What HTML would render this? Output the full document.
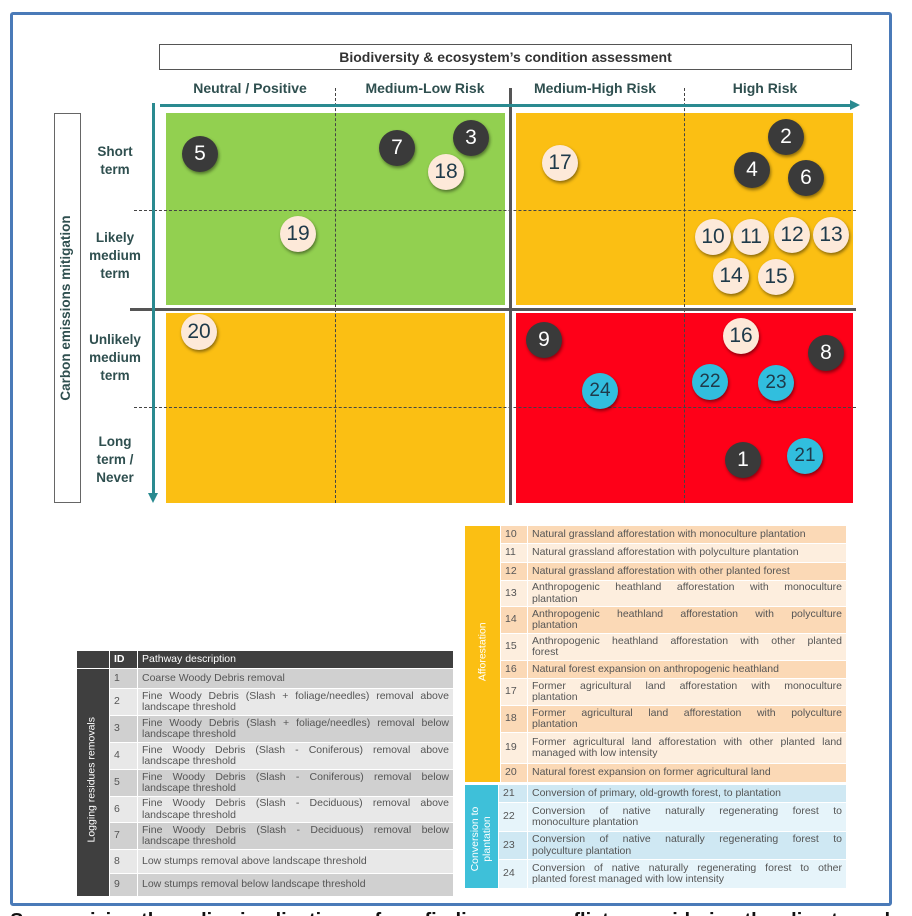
<!DOCTYPE html>
<html><head><meta charset="utf-8"><style>
*{margin:0;padding:0;box-sizing:border-box}
html,body{width:912px;height:916px;overflow:hidden}
body{background:#fff;position:relative;font-family:"Liberation Sans",Arial,sans-serif}
.a{position:absolute}
.q{position:absolute}
.hd{position:absolute;font-weight:bold;font-size:14px;color:#2f4f4f;text-align:center}
.rl{position:absolute;font-weight:bold;font-size:13.5px;color:#2f4f4f;text-align:center;line-height:18px;width:80px}
.c{position:absolute;width:36px;height:36px;border-radius:50%;text-align:center;line-height:36px;font-size:21px;box-shadow:1px 2px 3px rgba(0,0,0,.45)}
.k{background:#3a3a3a;color:#fff}
.p{background:#fde9d9;color:#1f3a4a}
.b{background:#31bede;color:#1f3a4a;font-size:19px}
.vd{position:absolute;border-left:1px dashed #444;width:0}
.hdsh{position:absolute;border-top:1px dashed #444;height:0}
table{border-collapse:separate;border-spacing:1px;font-size:10.5px;color:#555;line-height:11.5px}
td{padding:0 4px;vertical-align:middle}
.f{display:block;text-align:justify;text-align-last:justify}
</style></head><body>
<div class="a" style="left:10px;top:12px;width:882px;height:894px;border:3px solid #4a7ab8;border-radius:3px"></div>

<div class="a" style="left:159px;top:44px;width:693px;height:26px;border:1px solid #555;text-align:center;font-weight:bold;font-size:14px;line-height:24px;color:#333">Biodiversity &amp; ecosystem’s condition assessment</div>

<div class="hd" style="left:170px;top:80px;width:160px">Neutral / Positive</div>
<div class="hd" style="left:345px;top:80px;width:160px">Medium-Low Risk</div>
<div class="hd" style="left:515px;top:80px;width:160px">Medium-High Risk</div>
<div class="hd" style="left:685px;top:80px;width:160px">High Risk</div>

<div class="q" style="left:166px;top:113px;width:339px;height:192px;background:#92d050"></div>
<div class="q" style="left:516px;top:113px;width:337px;height:192px;background:#fbbf13"></div>
<div class="q" style="left:166px;top:313px;width:339px;height:190px;background:#fbbf13"></div>
<div class="q" style="left:516px;top:313px;width:337px;height:190px;background:#fe0018"></div>

<div class="vd" style="left:335px;top:88px;height:415px"></div>
<div class="vd" style="left:684px;top:88px;height:415px"></div>
<div class="hdsh" style="left:134px;top:210px;width:722px"></div>
<div class="hdsh" style="left:134px;top:407px;width:722px"></div>

<div class="a" style="left:509px;top:88px;width:3px;height:417px;background:#555"></div>
<div class="a" style="left:130px;top:308px;width:726px;height:3px;background:#555"></div>

<div class="a" style="left:160px;top:104px;width:692px;height:3px;background:#2a8a90"></div>
<div class="a" style="left:850px;top:100px;width:0;height:0;border-left:10px solid #2a8a90;border-top:5.5px solid transparent;border-bottom:5.5px solid transparent"></div>
<div class="a" style="left:152px;top:103px;width:3px;height:392px;background:#2a8a90"></div>
<div class="a" style="left:148px;top:493px;width:0;height:0;border-top:10px solid #2a8a90;border-left:5.5px solid transparent;border-right:5.5px solid transparent"></div>

<div class="a" style="left:54px;top:113px;width:27px;height:390px;border:1px solid #666"></div>
<div class="a" style="left:-128px;top:299px;width:390px;height:18px;transform:rotate(-90deg);text-align:center;font-weight:bold;font-size:13.5px;color:#2f4f4f">Carbon emissions mitigation</div>

<div class="rl" style="left:75px;top:143px">Short<br>term</div>
<div class="rl" style="left:75px;top:229px">Likely<br>medium<br>term</div>
<div class="rl" style="left:75px;top:331px">Unlikely<br>medium<br>term</div>
<div class="rl" style="left:75px;top:433px">Long<br>term /<br>Never</div>

<div class="c k" style="left:182px;top:136px">5</div>
<div class="c k" style="left:379px;top:130px">7</div>
<div class="c k" style="left:453px;top:120px">3</div>
<div class="c p" style="left:428px;top:154px">18</div>
<div class="c p" style="left:280px;top:216px">19</div>
<div class="c p" style="left:542px;top:145px">17</div>
<div class="c k" style="left:768px;top:119px">2</div>
<div class="c k" style="left:734px;top:152px">4</div>
<div class="c k" style="left:788px;top:160px">6</div>
<div class="c p" style="left:695px;top:219px">10</div>
<div class="c p" style="left:733px;top:219px">11</div>
<div class="c p" style="left:774px;top:217px">12</div>
<div class="c p" style="left:813px;top:217px">13</div>
<div class="c p" style="left:713px;top:258px">14</div>
<div class="c p" style="left:758px;top:259px">15</div>
<div class="c p" style="left:181px;top:314px">20</div>
<div class="c k" style="left:526px;top:322px">9</div>
<div class="c p" style="left:723px;top:318px">16</div>
<div class="c k" style="left:808px;top:335px">8</div>
<div class="c b" style="left:582px;top:373px">24</div>
<div class="c b" style="left:692px;top:364px">22</div>
<div class="c b" style="left:758px;top:365px">23</div>
<div class="c k" style="left:725px;top:442px">1</div>
<div class="c b" style="left:787px;top:438px">21</div>

<table class="a" style="left:76px;top:650px;width:378px">
<tr style="height:17px;background:#3f3f3f;color:#fff"><td style="width:32px"></td><td style="width:27px;font-weight:bold">ID</td><td>Pathway description</td></tr>
<tr style="height:19px;background:#d0d0d0"><td rowspan="9" style="background:#3f3f3f;position:relative;padding:0"><div style="position:absolute;left:-85px;top:105px;width:200px;transform:rotate(-90deg);color:#fff;text-align:center;font-size:10.5px">Logging residues removals</div></td><td>1</td><td>Coarse Woody Debris removal</td></tr>
<tr style="height:26px;background:#e8e8e8"><td>2</td><td><span class="f">Fine Woody Debris (Slash + foliage/needles) removal above</span>landscape threshold</td></tr>
<tr style="height:26px;background:#d0d0d0"><td>3</td><td><span class="f">Fine Woody Debris (Slash + foliage/needles) removal below</span>landscape threshold</td></tr>
<tr style="height:26px;background:#e8e8e8"><td>4</td><td><span class="f">Fine Woody Debris (Slash - Coniferous) removal above</span>landscape threshold</td></tr>
<tr style="height:26px;background:#d0d0d0"><td>5</td><td><span class="f">Fine Woody Debris (Slash - Coniferous) removal below</span>landscape threshold</td></tr>
<tr style="height:25px;background:#e8e8e8"><td>6</td><td><span class="f">Fine Woody Debris (Slash - Deciduous) removal above</span>landscape threshold</td></tr>
<tr style="height:26px;background:#d0d0d0"><td>7</td><td><span class="f">Fine Woody Debris (Slash - Deciduous) removal below</span>landscape threshold</td></tr>
<tr style="height:23px;background:#e8e8e8"><td>8</td><td>Low stumps removal above landscape threshold</td></tr>
<tr style="height:22px;background:#d0d0d0"><td>9</td><td>Low stumps removal below landscape threshold</td></tr>
</table>

<table class="a" style="left:464px;top:525px;width:383px">
<tr style="height:17px;background:#fbd9b6"><td rowspan="11" style="width:35px;background:#fbbf13;position:relative;padding:0"><div style="position:absolute;left:-82px;top:120px;width:200px;transform:rotate(-90deg);color:#fff;text-align:center;font-size:10.5px">Afforestation</div></td><td style="width:26px">10</td><td>Natural grassland afforestation with monoculture plantation</td></tr>
<tr style="height:18px;background:#fdeede"><td>11</td><td>Natural grassland afforestation with polyculture plantation</td></tr>
<tr style="height:17px;background:#fbd9b6"><td>12</td><td>Natural grassland afforestation with other planted forest</td></tr>
<tr style="height:25px;background:#fdeede"><td>13</td><td><span class="f">Anthropogenic heathland afforestation with monoculture</span>plantation</td></tr>
<tr style="height:26px;background:#fbd9b6"><td>14</td><td><span class="f">Anthropogenic heathland afforestation with polyculture</span>plantation</td></tr>
<tr style="height:26px;background:#fdeede"><td>15</td><td><span class="f">Anthropogenic heathland afforestation with other planted</span>forest</td></tr>
<tr style="height:17px;background:#fbd9b6"><td>16</td><td>Natural forest expansion on anthropogenic heathland</td></tr>
<tr style="height:26px;background:#fdeede"><td>17</td><td><span class="f">Former agricultural land afforestation with monoculture</span>plantation</td></tr>
<tr style="height:26px;background:#fbd9b6"><td>18</td><td><span class="f">Former agricultural land afforestation with polyculture</span>plantation</td></tr>
<tr style="height:30px;background:#fdeede"><td>19</td><td><span class="f">Former agricultural land afforestation with other planted land</span>managed with low intensity</td></tr>
<tr style="height:18px;background:#fbd9b6"><td>20</td><td>Natural forest expansion on former agricultural land</td></tr>
</table>
<table class="a" style="left:464px;top:784px;width:383px">
<tr style="height:17px;background:#cfe8f3"><td rowspan="4" style="width:33px;background:#3ec0d9;position:relative;padding:0"><div style="position:absolute;left:-84px;top:42px;width:200px;transform:rotate(-90deg);color:#fff;text-align:center;font-size:10.5px;line-height:12px">Conversion to<br>plantation</div></td><td style="width:28px">21</td><td>Conversion of primary, old-growth forest, to plantation</td></tr>
<tr style="height:28px;background:#e6f4fa"><td>22</td><td><span class="f">Conversion of native naturally regenerating forest to</span>monoculture plantation</td></tr>
<tr style="height:27px;background:#cfe8f3"><td>23</td><td><span class="f">Conversion of native naturally regenerating forest to</span>polyculture plantation</td></tr>
<tr style="height:28px;background:#e6f4fa"><td>24</td><td><span class="f">Conversion of native naturally regenerating forest to other</span>planted forest managed with low intensity</td></tr>
</table>

<div class="a" style="left:10px;top:909px;white-space:nowrap;font-weight:bold;font-size:20px;color:#111;line-height:24px">Summarizing the policy implications of our findings on conflicts considering the climate and</div>
</body></html>
